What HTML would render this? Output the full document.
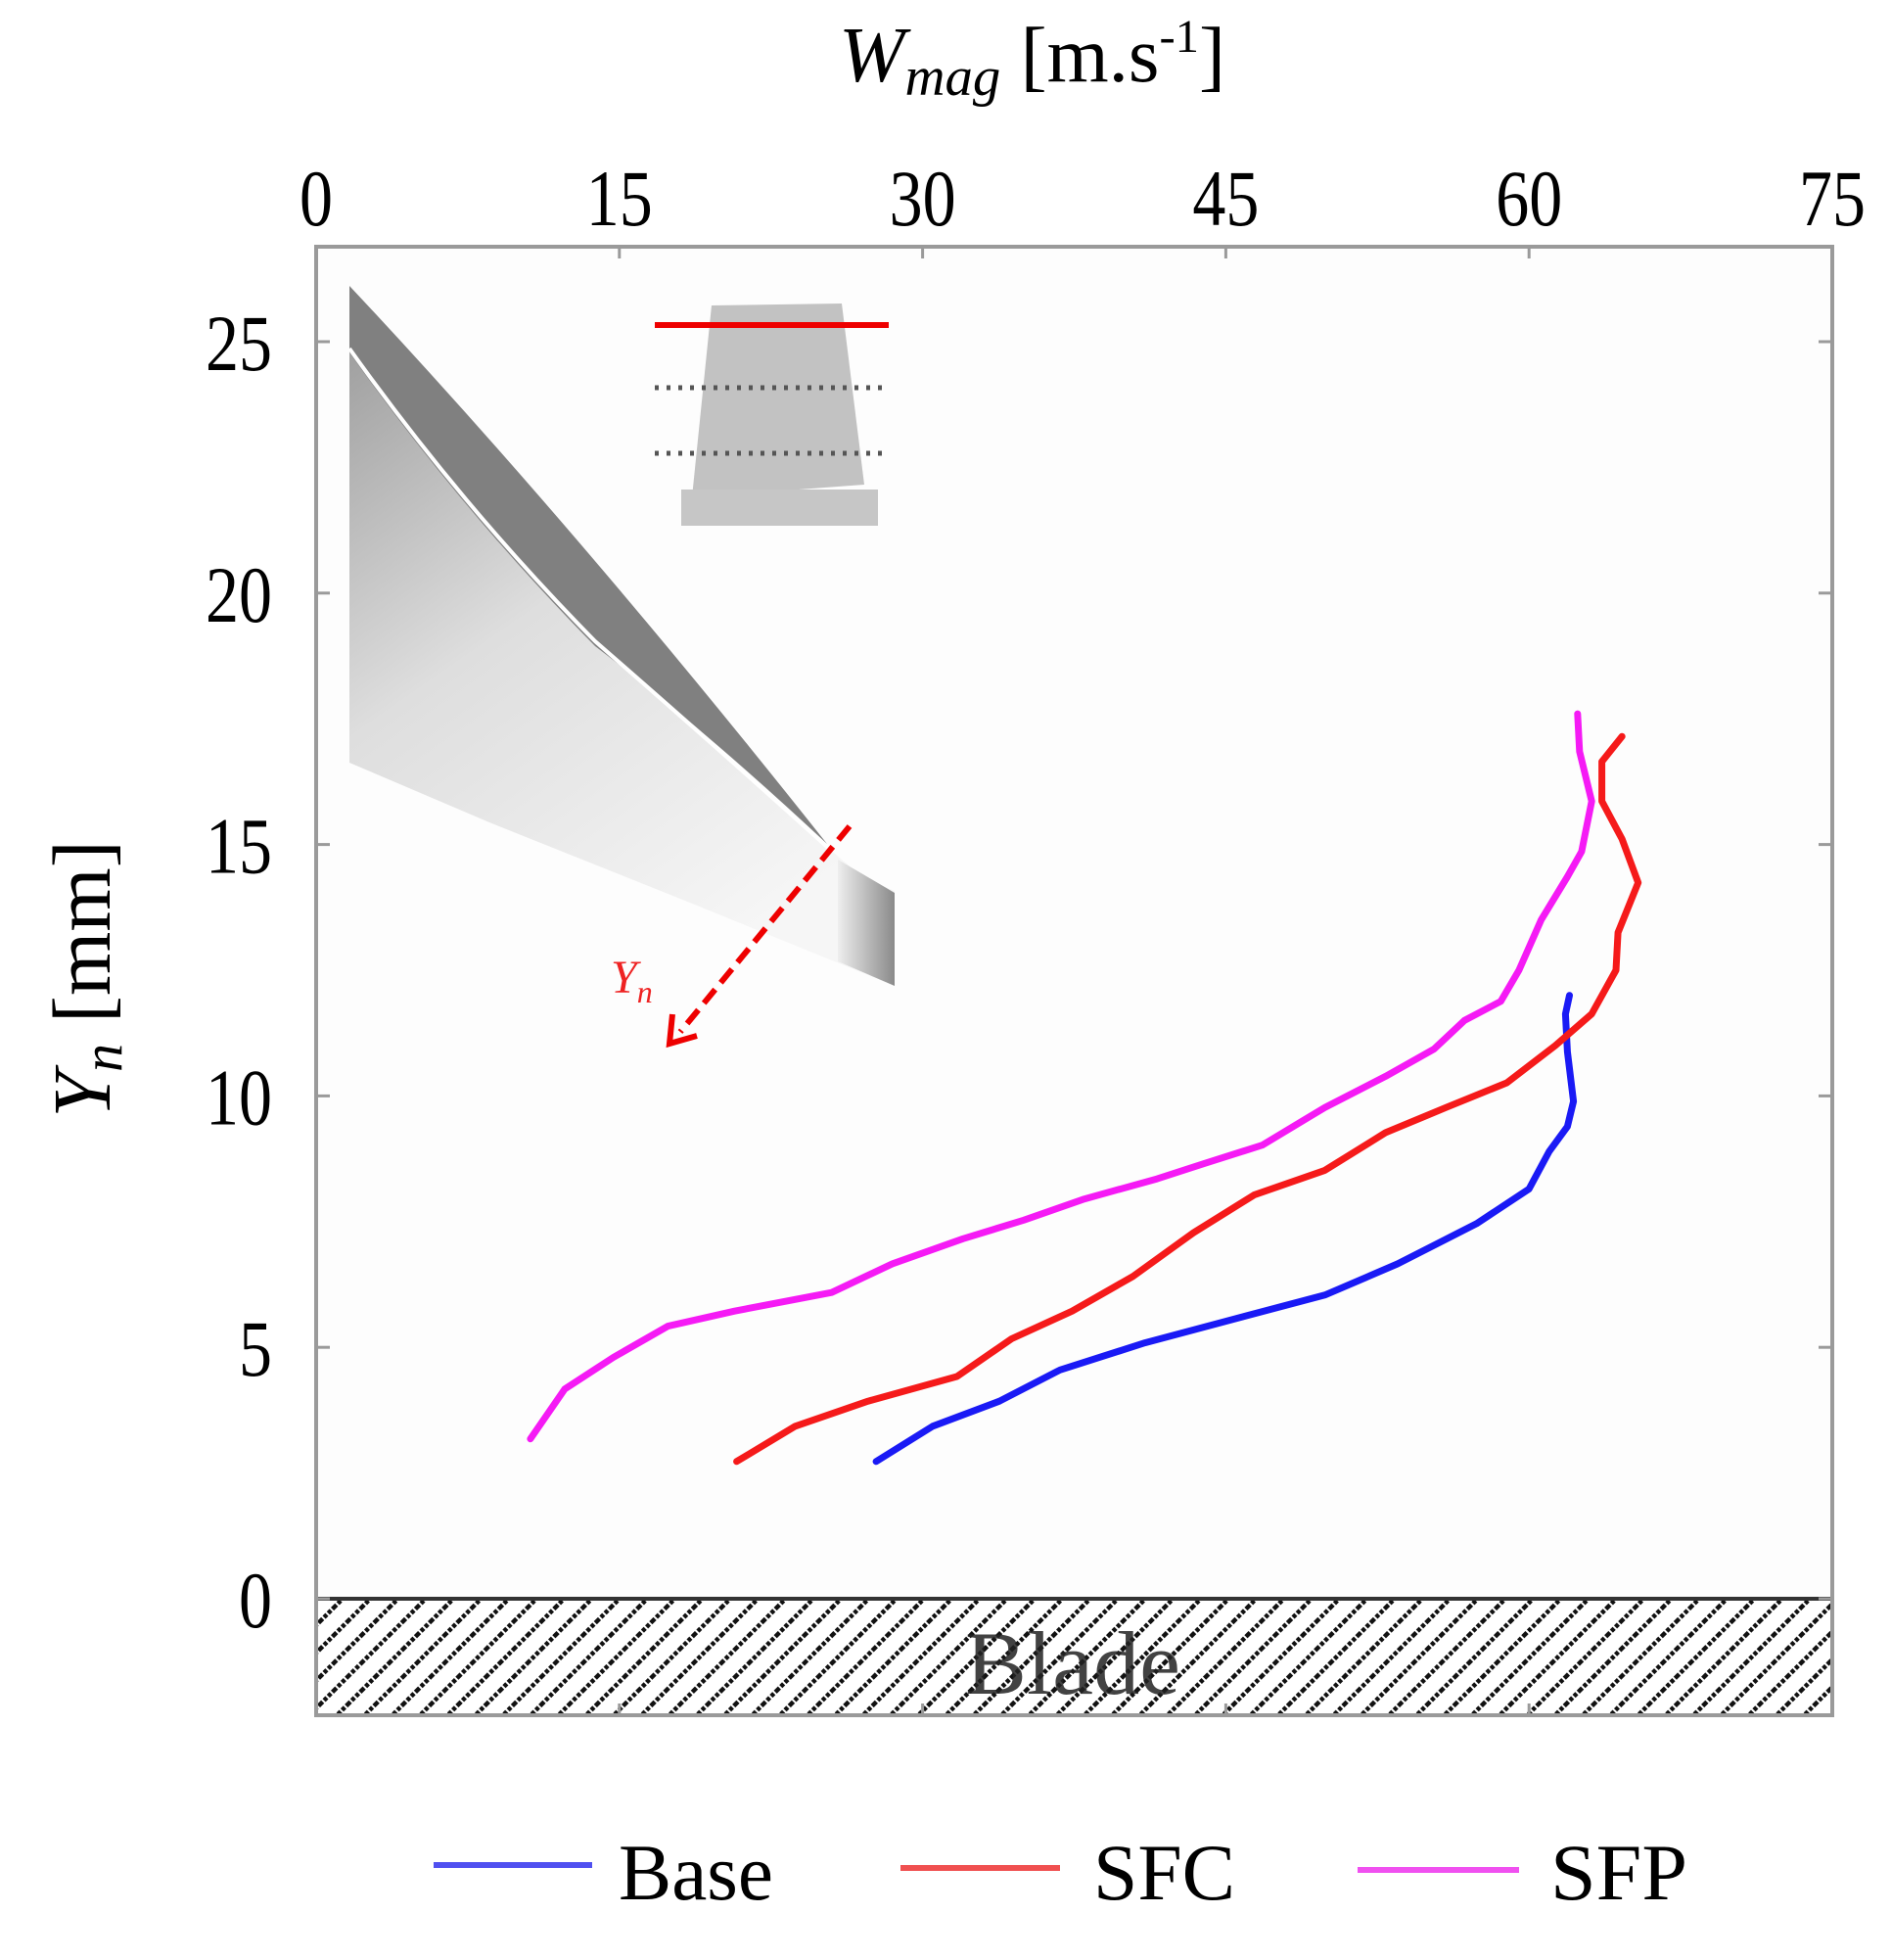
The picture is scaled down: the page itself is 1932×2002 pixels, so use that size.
<!DOCTYPE html>
<html><head><meta charset="utf-8"><style>
html,body{margin:0;padding:0;background:#fff;}
svg{display:block;font-family:"Liberation Serif",serif;}
</style></head><body>
<svg id="chart" width="1932" height="2002" viewBox="0 0 1932 2002" xmlns="http://www.w3.org/2000/svg">
<defs>
<pattern id="hatch" patternUnits="userSpaceOnUse" width="20" height="20" patternTransform="rotate(-45)">
<rect width="20" height="20" fill="#fff"/>
<line x1="0" y1="2" x2="20" y2="2" stroke="#111" stroke-width="5" stroke-dasharray="4,2"/>
</pattern>
<linearGradient id="flowgrad" x1="0" y1="0" x2="0.6" y2="1">
<stop offset="0" stop-color="#a0a0a0"/><stop offset="0.45" stop-color="#dedede"/><stop offset="1" stop-color="#f6f6f6"/>
</linearGradient>
<linearGradient id="wakegrad" x1="0" y1="0" x2="1" y2="0">
<stop offset="0" stop-color="#eeeeee"/><stop offset="1" stop-color="#8a8a8a"/>
</linearGradient>
</defs>
<rect x="0" y="0" width="1932" height="2002" fill="#fff"/>
<rect x="323" y="252" width="1549" height="1500" fill="#fdfdfd"/>

<g>
<path d="M357,360 Q480,510 608,655 Q740,770 846,866 L880,895 L914,910 L914,1007 L700,920 L500,840 L357,779 Z" fill="url(#flowgrad)"/>
<polygon points="856,878 880,892 914,912 914,1007 856,982" fill="url(#wakegrad)"/>
<path d="M357,292 Q590,540 845,862 Q720,745 608,660 Q470,520 357,360 Z" fill="#808080"/>
<path d="M357,356 Q470,515 608,655 Q740,770 846,866" fill="none" stroke="#fff" stroke-width="4"/>
</g>
<g>
<polygon points="727,312 860,310 883,495 707,508" fill="#c2c2c2"/>
<rect x="696" y="500" width="201" height="37" fill="#c6c6c6"/>
<line x1="669" y1="332" x2="908" y2="332" stroke="#e00" stroke-width="6"/>
<line x1="669" y1="396" x2="908" y2="396" stroke="#555" stroke-width="5" stroke-dasharray="4,8"/>
<line x1="669" y1="463" x2="908" y2="463" stroke="#555" stroke-width="5" stroke-dasharray="4,8"/>
</g>
<g>
<line x1="868" y1="844" x2="695" y2="1054" stroke="#e00" stroke-width="6" stroke-dasharray="18,9"/>
<polyline points="687,1036 684,1066 712,1058" fill="none" stroke="#e00" stroke-width="6"/>
<text x="624" y="1014" font-size="48" font-style="italic" fill="#e22">Y<tspan font-size="32" dy="10">n</tspan></text>
</g>

<rect x="323" y="1633" width="1549" height="119" fill="url(#hatch)"/>
<text x="1096" y="1730" font-size="92" text-anchor="middle" fill="#222" opacity="0.85" textLength="220" lengthAdjust="spacingAndGlyphs">Blade</text>
<line x1="323" y1="1633" x2="1872" y2="1633" stroke="#333" stroke-width="4"/>

<rect x="323" y="252" width="1549" height="1500" fill="none" stroke="#9a9a9a" stroke-width="4"/>
<g id="ticks"></g>
<g id="series"></g>

<text x="857" y="83" font-size="80" font-style="italic" textLength="395" lengthAdjust="spacingAndGlyphs">W<tspan font-size="56" dy="14">mag</tspan><tspan font-style="normal" dy="-14"> [m.s</tspan><tspan font-style="normal" font-size="48" dy="-30">-1</tspan><tspan font-style="normal" dy="30">]</tspan></text>
<text transform="translate(112,1000) rotate(-90)" font-size="84" text-anchor="middle"><tspan font-style="italic">Y<tspan font-size="58" dy="12">n</tspan></tspan><tspan dy="-12"> [mm]</tspan></text>

<g>
<g><line x1="443" y1="1905" x2="605" y2="1905" stroke="#5050f0" stroke-width="6"/><text x="632" y="1940" font-size="82" textLength="158" lengthAdjust="spacingAndGlyphs">Base</text></g>
<g><line x1="920" y1="1908" x2="1083" y2="1908" stroke="#f05050" stroke-width="6"/><text x="1117" y="1940" font-size="82" textLength="145" lengthAdjust="spacingAndGlyphs">SFC</text></g>
<g><line x1="1387" y1="1910" x2="1552" y2="1910" stroke="#f050f0" stroke-width="6"/><text x="1584" y="1940" font-size="82" textLength="140" lengthAdjust="spacingAndGlyphs">SFP</text></g>
</g>
</svg>
<script>
const xTicks = [0, 15, 30, 45, 60, 75];
const yTicks = [0, 5, 10, 15, 20, 25];
const baseX = [27.7, 30.5, 33.8, 36.8, 41.0, 45.2, 49.9, 53.5, 57.4, 60.0, 61.0, 61.9, 62.2, 61.9, 61.8, 62.0];
const baseY = [2.73, 3.43, 3.93, 4.55, 5.09, 5.54, 6.04, 6.66, 7.46, 8.15, 8.9, 9.39, 9.89, 10.88, 11.63, 12.0];
const sfcX = [20.8, 23.7, 27.3, 31.7, 34.4, 37.4, 40.4, 43.4, 46.4, 49.9, 52.9, 55.9, 58.9, 61.3, 63.1, 64.3, 64.4, 65.4, 64.6, 63.6, 63.6, 64.6];
const sfcY = [2.73, 3.43, 3.93, 4.42, 5.17, 5.72, 6.41, 7.28, 8.03, 8.52, 9.27, 9.77, 10.26, 11.0, 11.63, 12.5, 13.25, 14.24, 15.11, 15.86, 16.65, 17.15];
const sfpX = [10.6, 12.3, 14.7, 17.4, 20.7, 25.5, 28.5, 32.0, 35.0, 38.0, 41.6, 43.9, 46.8, 49.9, 52.9, 55.3, 56.8, 58.6, 59.5, 60.6, 61.9, 62.6, 63.1, 62.5, 62.4];
const sfpY = [3.18, 4.17, 4.80, 5.42, 5.72, 6.09, 6.66, 7.16, 7.53, 7.95, 8.35, 8.65, 9.02, 9.77, 10.39, 10.93, 11.5, 11.88, 12.5, 13.5, 14.36, 14.86, 15.86, 16.85, 17.6];

const X0 = 323, X1 = 1872, Y0 = 1633, Y25 = 349;
function sx(v){ return X0 + (X1 - X0) * v / 75; }
function sy(v){ return Y0 - (Y0 - Y25) * v / 25; }
const NS = "http://www.w3.org/2000/svg";
const tg = document.getElementById('ticks');
xTicks.forEach(function(t){
  const x = sx(t);
  [[252, 264], [1740, 1752]].forEach(function(p){
    const l = document.createElementNS(NS, 'line');
    l.setAttribute('x1', x); l.setAttribute('x2', x); l.setAttribute('y1', p[0]); l.setAttribute('y2', p[1]);
    l.setAttribute('stroke', '#9a9a9a'); l.setAttribute('stroke-width', '3');
    
    
    tg.appendChild(l);
  });
  const tx = document.createElementNS(NS, 'text');
  tx.setAttribute('x', x); tx.setAttribute('y', 230);
  tx.setAttribute('font-size', '82'); tx.setAttribute('text-anchor', 'middle');
  tx.setAttribute('textLength', String(t).length * 34);
  tx.setAttribute('lengthAdjust', 'spacingAndGlyphs');
  tx.textContent = t;
  
  
  tg.appendChild(tx);
});
yTicks.forEach(function(t){
  const y = sy(t);
  [[323, 337], [1858, 1872]].forEach(function(p){
    const l = document.createElementNS(NS, 'line');
    l.setAttribute('x1', p[0]); l.setAttribute('x2', p[1]); l.setAttribute('y1', y); l.setAttribute('y2', y);
    l.setAttribute('stroke', '#9a9a9a'); l.setAttribute('stroke-width', '3');
    
    
    tg.appendChild(l);
  });
  const tx = document.createElementNS(NS, 'text');
  tx.setAttribute('x', 278); tx.setAttribute('y', y + 29);
  tx.setAttribute('font-size', '82'); tx.setAttribute('text-anchor', 'end');
  tx.setAttribute('textLength', String(t).length * 34);
  tx.setAttribute('lengthAdjust', 'spacingAndGlyphs');
  tx.textContent = t;
  
  
  tg.appendChild(tx);
});
const sg = document.getElementById('series');
[[baseX, baseY, '#1a1af5', 'series-base'], [sfcX, sfcY, '#f51a1a', 'series-sfc'], [sfpX, sfpY, '#f51af5', 'series-sfp']].forEach(function(s){
  const pts = s[0].map(function(v, i){ return sx(v).toFixed(1) + ',' + sy(s[1][i]).toFixed(1); }).join(' ');
  const pl = document.createElementNS(NS, 'polyline');
  pl.setAttribute('points', pts);
  pl.setAttribute('fill', 'none'); pl.setAttribute('stroke', s[2]);
  pl.setAttribute('stroke-width', '7'); pl.setAttribute('stroke-linejoin', 'round'); pl.setAttribute('stroke-linecap', 'round');
  
  
  sg.appendChild(pl);
});
</script>
</body></html>
